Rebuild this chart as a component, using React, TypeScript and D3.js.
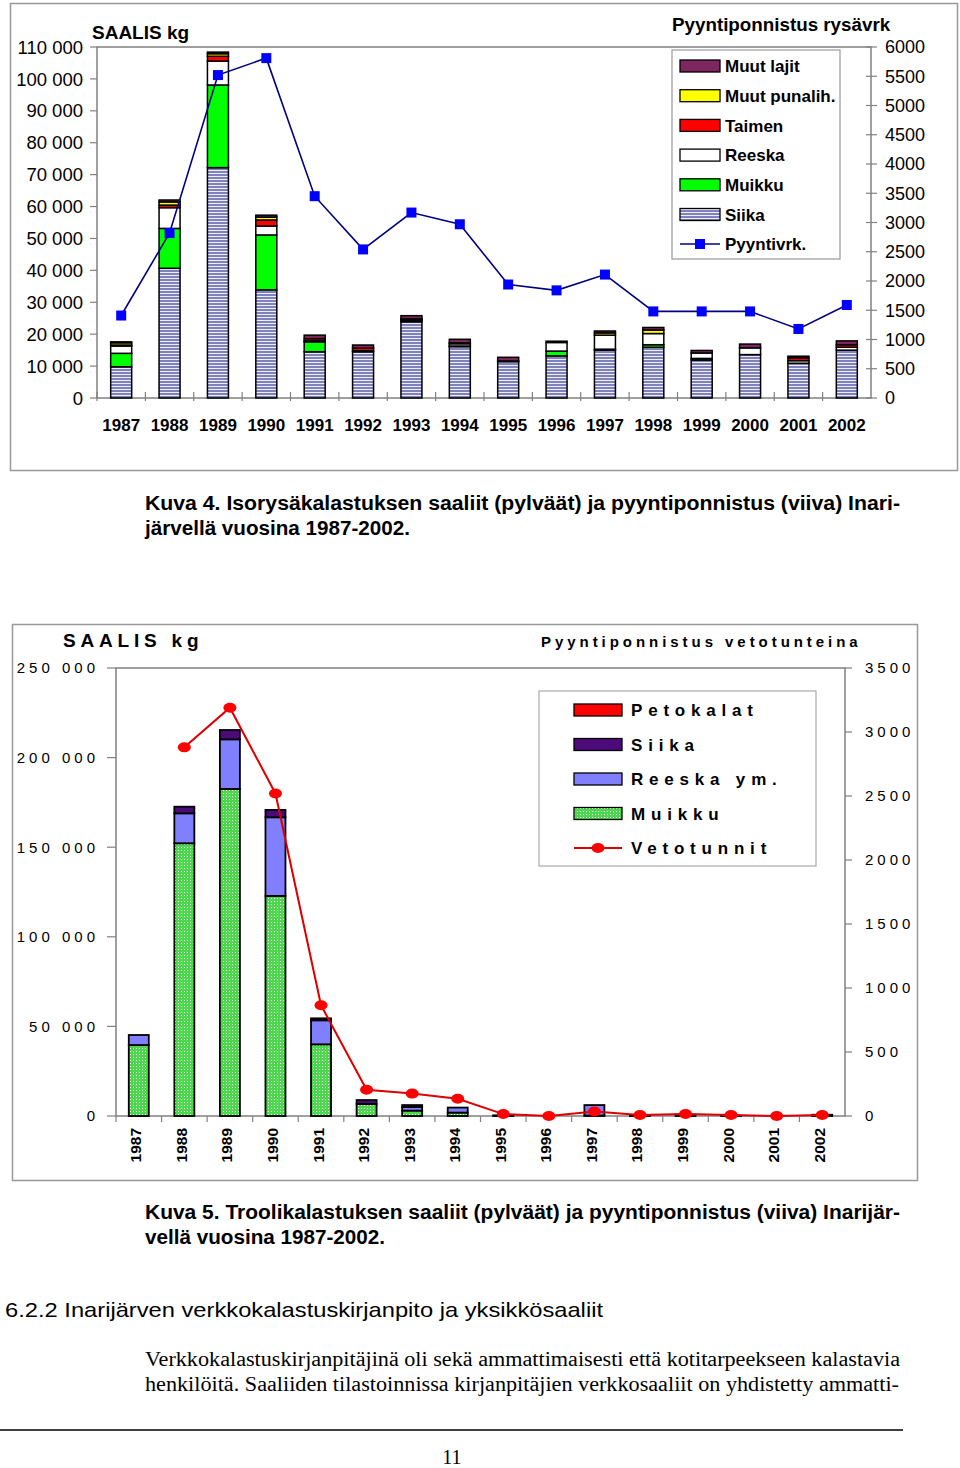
import React from "react";
import * as d3 from "d3";

// ---------- Data ----------
const years = [1987,1988,1989,1990,1991,1992,1993,1994,1995,1996,1997,1998,1999,2000,2001,2002];

// Chart 1 (isorysä) catch, kg
const siika1 = [9800, 40650, 72200, 33900, 14500, 14500, 23900, 16100, 11400, 13200, 15000, 15900, 11900, 13600, 10900, 15000];
const muikku1 = [4200, 12500, 25900, 17200, 3100, 0, 500, 200, 0, 1500, 300, 800, 500, 0, 0, 0];
const reeska1 = [2300, 6500, 7500, 2800, 300, 300, 200, 700, 200, 2700, 4400, 3500, 1700, 2100, 800, 900];
const taimen1 = [300, 800, 1500, 1900, 700, 800, 200, 300, 0, 0, 0, 0, 0, 0, 900, 800];
const muutPunalih1 = [700, 1000, 800, 900, 0, 0, 0, 0, 0, 0, 700, 1100, 0, 0, 0, 0];
const muutLajit1 = [300, 600, 500, 600, 1100, 1000, 1000, 1100, 1150, 400, 600, 800, 800, 1200, 500, 1200];
const pyyntivrk = [1410, 2820, 5520, 5810, 3450, 2540, 3170, 2970, 1940, 1840, 2110, 1480, 1480, 1480, 1180, 1590];
const leftTicks1 = [0,10000,20000,30000,40000,50000,60000,70000,80000,90000,100000,110000];
const rightTicks1 = [0,500,1000,1500,2000,2500,3000,3500,4000,4500,5000,5500,6000];

// Chart 2 (trooli) catch, kg
const muikku2 = [39600, 152200, 182500, 122800, 40000, 6700, 3000, 1900, 200, 0, 300, 0, 0, 0, 0, 0];
const reeska2 = [5600, 16700, 27700, 43900, 13400, 0, 2000, 2800, 0, 0, 5800, 0, 0, 0, 0, 0];
const siika2 = [0, 3700, 5200, 4100, 1100, 2200, 1100, 0, 100, 0, 0, 600, 800, 200, 0, 700];
const peto2 = [0, 0, 0, 0, 0, 0, 0, 0, 0, 0, 0, 0, 0, 0, 0, 0];
const vetotunnit: (number | null)[] = [null, 2880, 3190, 2520, 865, 205, 175, 135, 15, 0, 35, 8, 15, 8, 0, 8];
const leftTicks2 = [0, 50000, 100000, 150000, 200000, 250000];
const rightTicks2 = [0, 500, 1000, 1500, 2000, 2500, 3000, 3500];

const series1 = [
  { key: "siika", name: "Siika", vals: siika1, fill: "url(#stripe1)" },
  { key: "muikku", name: "Muikku", vals: muikku1, fill: "#00ff00" },
  { key: "reeska", name: "Reeska", vals: reeska1, fill: "#ffffff" },
  { key: "taimen", name: "Taimen", vals: taimen1, fill: "#ff0000" },
  { key: "punalih", name: "Muut punalih.", vals: muutPunalih1, fill: "#ffff00" },
  { key: "lajit", name: "Muut lajit", vals: muutLajit1, fill: "#7e2660" },
];
const series2 = [
  { key: "muikku", name: "Muikku", vals: muikku2, fill: "url(#grid2)" },
  { key: "reeska", name: "Reeska ym.", vals: reeska2, fill: "#8080ff" },
  { key: "siika", name: "Siika", vals: siika2, fill: "#4d0a7a" },
  { key: "peto", name: "Petokalat", vals: peto2, fill: "#ff0000" },
];

const SANS = "'Liberation Sans', Arial, Helvetica, sans-serif";
const SERIF = "'Liberation Serif', 'Times New Roman', serif";
const fmt = d3.formatLocale({ decimal: ",", thousands: " ", grouping: [3], currency: ["", ""] }).format(",d");

function Chart1() {
  const x = d3.scaleBand<number>().domain(years).range([97, 871]);
  const y = d3.scaleLinear().domain([0, 110000]).range([398, 47]);
  const yr = d3.scaleLinear().domain([0, 6000]).range([398, 47]);
  const rows = years.map((yr0, i) => {
    const o: any = { year: yr0 };
    series1.forEach((s) => (o[s.key] = s.vals[i]));
    return o;
  });
  const stacked = d3.stack<any>().keys(series1.map((s) => s.key))(rows);
  const bw = 21;
  const line = d3.line<number>().x((_, i) => x(years[i])! + x.bandwidth() / 2).y((d) => yr(d));
  const legendOrder = [...series1].reverse();
  return (
    <g>
      <rect x={10.5} y={3.5} width={947} height={467} fill="none" stroke="#999" strokeWidth={1.5} />
      <rect x={97} y={47} width={774} height={351} fill="none" stroke="#808080" strokeWidth={1.5} />
      {leftTicks1.map((t) => (
        <g key={t}>
          <line x1={90} x2={97} y1={y(t)} y2={y(t)} stroke="#808080" strokeWidth={1.2} />
          <text x={83} y={y(t)} dy="0.36em" textAnchor="end" fontFamily={SANS} fontSize={18.5}>{fmt(t)}</text>
        </g>
      ))}
      {rightTicks1.map((t) => (
        <g key={t}>
          <line x1={866} x2={877} y1={yr(t)} y2={yr(t)} stroke="#808080" strokeWidth={1.2} />
          <text x={885} y={yr(t)} dy="0.36em" textAnchor="start" fontFamily={SANS} fontSize={18}>{t}</text>
        </g>
      ))}
      {years.map((yy, i) => (
        <line key={i} x1={x(yy)!} x2={x(yy)!} y1={392} y2={401} stroke="#808080" strokeWidth={1.2} />
      ))}
      {years.map((yy) => (
        <text key={yy} x={x(yy)! + x.bandwidth() / 2} y={431} textAnchor="middle" fontFamily={SANS} fontWeight="bold" fontSize={17}>{yy}</text>
      ))}
      {stacked.map((layer, li) => (
        <g key={li}>
          {layer.map((d, i) => {
            const h = y(d[0]) - y(d[1]);
            if (h <= 0) return null;
            return (
              <rect key={i} x={x(years[i])! + x.bandwidth() / 2 - bw / 2} y={y(d[1])} width={bw} height={h}
                fill={series1[li].fill} stroke="#000" strokeWidth={1.5} />
            );
          })}
        </g>
      ))}
      <path d={line(pyyntivrk)!} fill="none" stroke="#000080" strokeWidth={1.6} />
      {pyyntivrk.map((v, i) => (
        <rect key={i} x={x(years[i])! + x.bandwidth() / 2 - 5} y={yr(v) - 5} width={10} height={10} fill="#0000ff" />
      ))}
      <text x={92} y={39} fontFamily={SANS} fontWeight="bold" fontSize={19}>SAALIS kg</text>
      <text x={672} y={31} fontFamily={SANS} fontWeight="bold" fontSize={18.8}>Pyyntiponnistus rysävrk</text>
      <rect x={672} y={50} width={168} height={209} fill="#fff" stroke="#999" strokeWidth={1.2} />
      {legendOrder.map((s, i) => {
        const cy = 66 + i * 29.7;
        return (
          <g key={s.key}>
            <rect x={680} y={cy - 6} width={40} height={12} fill={s.fill} stroke="#000" strokeWidth={1.3} />
            <text x={725} y={cy} dy="0.36em" fontFamily={SANS} fontWeight="bold" fontSize={17}>{s.name}</text>
          </g>
        );
      })}
      <g>
        <line x1={680} x2={720} y1={244} y2={244} stroke="#000080" strokeWidth={1.6} />
        <rect x={695} y={239} width={10} height={10} fill="#0000ff" />
        <text x={725} y={244} dy="0.36em" fontFamily={SANS} fontWeight="bold" fontSize={17}>Pyyntivrk.</text>
      </g>
    </g>
  );
}

function Chart2() {
  const x = d3.scaleBand<number>().domain(years).range([116, 845]);
  const y = d3.scaleLinear().domain([0, 250000]).range([1116, 668]);
  const yr = d3.scaleLinear().domain([0, 3500]).range([1116, 668]);
  const rows = years.map((yr0, i) => {
    const o: any = { year: yr0 };
    series2.forEach((s) => (o[s.key] = s.vals[i]));
    return o;
  });
  const stacked = d3.stack<any>().keys(series2.map((s) => s.key))(rows);
  const bw = 20;
  const cx = (i: number) => x(years[i])! + x.bandwidth() / 2;
  const line = d3.line<number | null>()
    .defined((d) => d !== null)
    .x((_, i) => cx(i))
    .y((d) => yr(d as number));
  const legendOrder = [...series2].reverse();
  return (
    <g>
      <rect x={12.5} y={624.5} width={905} height={556} fill="none" stroke="#999" strokeWidth={1.5} />
      <rect x={116} y={668} width={729} height={448} fill="none" stroke="#808080" strokeWidth={1.5} />
      {leftTicks2.map((t) => (
        <g key={t}>
          <line x1={107} x2={116} y1={y(t)} y2={y(t)} stroke="#808080" strokeWidth={1.2} />
          <text x={99} y={y(t)} dy="0.36em" textAnchor="end" fontFamily={SANS} fontSize={15} letterSpacing={4}>{fmt(t)}</text>
        </g>
      ))}
      {rightTicks2.map((t) => (
        <g key={t}>
          <line x1={845} x2={852} y1={yr(t)} y2={yr(t)} stroke="#808080" strokeWidth={1.2} />
          <text x={865} y={yr(t)} dy="0.36em" textAnchor="start" fontFamily={SANS} fontSize={15} letterSpacing={4}>{t}</text>
        </g>
      ))}
      {years.map((yy, i) => (
        <line key={i} x1={x(yy)!} x2={x(yy)!} y1={1116} y2={1122} stroke="#808080" strokeWidth={1.2} />
      ))}
      {years.map((yy, i) => (
        <text key={yy} transform={`translate(${cx(i) + 2.5},1128) rotate(-90)`} textAnchor="end"
          fontFamily={SANS} fontWeight="bold" fontSize={15.5}>{yy}</text>
      ))}
      {stacked.map((layer, li) => (
        <g key={li}>
          {layer.map((d, i) => {
            const h = y(d[0]) - y(d[1]);
            if (h <= 0) return null;
            return (
              <rect key={i} x={cx(i) - bw / 2} y={y(d[1])} width={bw} height={h}
                fill={series2[li].fill} stroke="#000" strokeWidth={1.8} />
            );
          })}
        </g>
      ))}
      <path d={line(vetotunnit)!} fill="none" stroke="#dd0000" strokeWidth={2} />
      {vetotunnit.map((v, i) => v === null ? null : (
        <ellipse key={i} cx={cx(i)} cy={yr(v)} rx={6.5} ry={5} fill="#ff0000" />
      ))}
      <text x={63} y={647} fontFamily={SANS} fontWeight="bold" fontSize={19} letterSpacing={4.8}>SAALIS kg</text>
      <text x={541} y={647} fontFamily={SANS} fontWeight="bold" fontSize={15} letterSpacing={3.95}>Pyyntiponnistus vetotunteina</text>
      <rect x={539} y={691} width={277} height={175} fill="#fff" stroke="#aaa" strokeWidth={1.2} />
      {legendOrder.map((s, i) => {
        const cy = 710 + i * 34.5;
        return (
          <g key={s.key}>
            <rect x={574} y={cy - 6} width={48} height={12} fill={s.fill} stroke="#000" strokeWidth={1.3} />
            <text x={631} y={cy} dy="0.36em" fontFamily={SANS} fontWeight="bold" fontSize={17} letterSpacing={5.8}>{s.name}</text>
          </g>
        );
      })}
      <g>
        <line x1={574} x2={622} y1={848} y2={848} stroke="#dd0000" strokeWidth={2} />
        <ellipse cx={598} cy={848} rx={6.5} ry={5} fill="#ff0000" />
        <text x={631} y={848} dy="0.36em" fontFamily={SANS} fontWeight="bold" fontSize={17} letterSpacing={5.8}>Vetotunnit</text>
      </g>
    </g>
  );
}

export default function App() {
  return (
    <svg width={960} height={1468} style={{ position: "absolute", left: 0, top: 0, background: "#fff" }}>
      <defs>
        <pattern id="stripe1" width={4} height={3} patternUnits="userSpaceOnUse">
          <rect width={4} height={3} fill="#eeeefa" />
          <rect width={4} height={2} fill="#8083bb" />
        </pattern>
        <pattern id="grid2" width={3} height={3} patternUnits="userSpaceOnUse">
          <rect width={3} height={3} fill="#4cd84c" />
          <rect x={1} y={1} width={1} height={1} fill="#ffffff" />
        </pattern>
      </defs>
      <rect width={960} height={1468} fill="#fff" />
      <Chart1 />
      <text x={145} y={510} fontFamily={SANS} fontWeight="bold" fontSize={20} textLength={755} lengthAdjust="spacingAndGlyphs">Kuva 4. Isorysäkalastuksen saaliit (pylväät) ja pyyntiponnistus (viiva) Inari-</text>
      <text x={145} y={535} fontFamily={SANS} fontWeight="bold" fontSize={20} textLength={265} lengthAdjust="spacingAndGlyphs">järvellä vuosina 1987-2002.</text>
      <Chart2 />
      <text x={145} y={1219} fontFamily={SANS} fontWeight="bold" fontSize={20} textLength={755} lengthAdjust="spacingAndGlyphs">Kuva 5. Troolikalastuksen saaliit (pylväät) ja pyyntiponnistus (viiva) Inarijär-</text>
      <text x={145} y={1244} fontFamily={SANS} fontWeight="bold" fontSize={20} textLength={240} lengthAdjust="spacingAndGlyphs">vellä vuosina 1987-2002.</text>
      <text x={5} y={1317} fontFamily={SANS} fontSize={21} textLength={598} lengthAdjust="spacingAndGlyphs">6.2.2 Inarijärven verkkokalastuskirjanpito ja yksikkösaaliit</text>
      <text x={145} y={1366} fontFamily={SERIF} fontSize={20} textLength={755} lengthAdjust="spacingAndGlyphs">Verkkokalastuskirjanpitäjinä oli sekä ammattimaisesti että kotitarpeekseen kalastavia</text>
      <text x={145} y={1391} fontFamily={SERIF} fontSize={20} textLength={754} lengthAdjust="spacingAndGlyphs">henkilöitä. Saaliiden tilastoinnissa kirjanpitäjien verkkosaaliit on yhdistetty ammatti-</text>
      <line x1={0} x2={903} y1={1430} y2={1430} stroke="#000" strokeWidth={1.5} />
      <text x={452} y={1464} textAnchor="middle" fontFamily={SERIF} fontSize={20}>11</text>
    </svg>
  );
}
